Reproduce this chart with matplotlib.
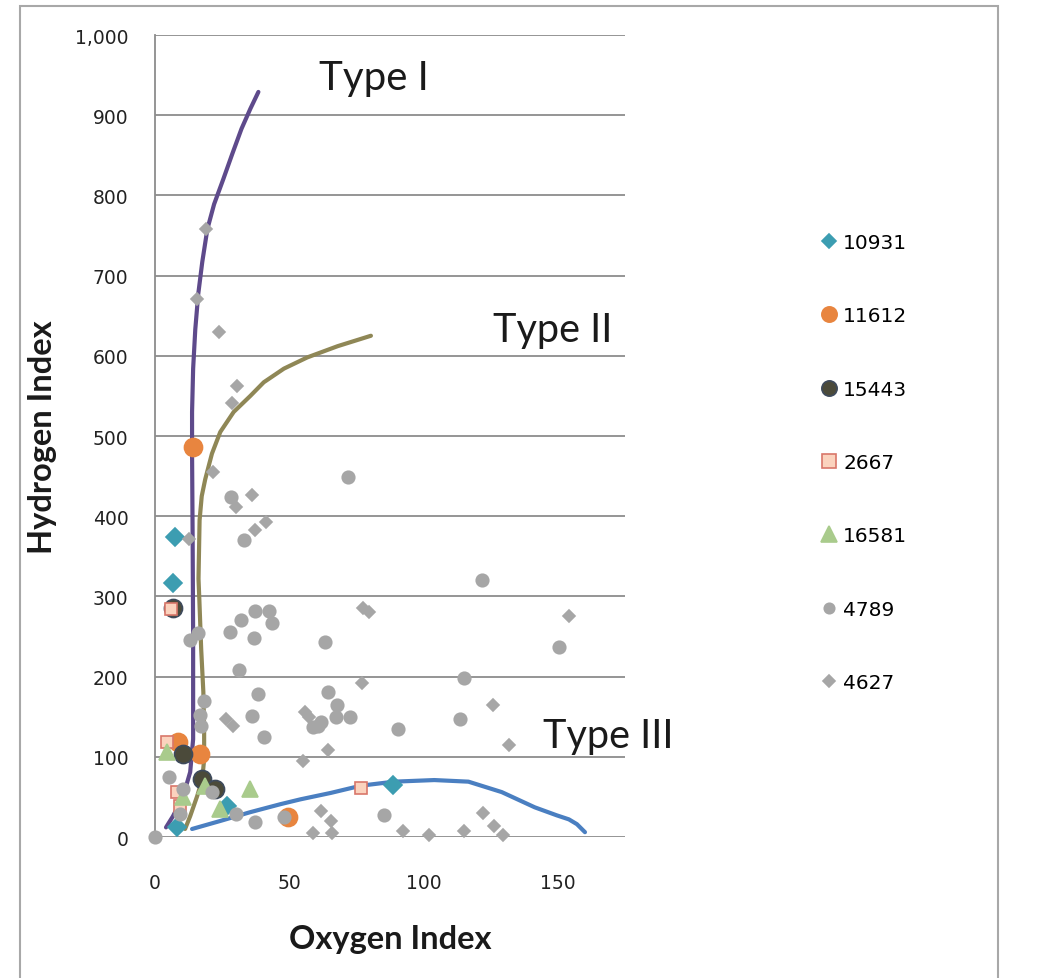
import matplotlib
matplotlib.use("Agg")
import matplotlib.pyplot as plt
from matplotlib.lines import Line2D
from matplotlib.patches import Rectangle
from matplotlib.ticker import FuncFormatter

# kerogen type curves (Oxygen Index, Hydrogen Index)
type1_x = [4.1, 6.7, 10.5, 13.1, 14.2, 14.2, 14.0, 13.8, 13.8, 14.2, 15.0, 16.1, 17.6,
           19.5, 22.0, 25.4, 28.8, 32.2, 35.5, 38.5]
type1_y = [12, 26, 51, 81, 122, 250, 380, 480, 530, 584, 633, 677, 717,
           758, 789, 820, 852, 883, 908, 929]
type2_x = [11.2, 13.1, 15.7, 17.6, 18.3, 18.3, 18.0, 17.2, 16.5, 16.2, 16.6, 17.4, 18.7,
           21.2, 24.3, 29.3, 35.5, 40.5, 48.0, 56.7, 68.0, 80.4]
type2_y = [10, 26, 51, 72, 97, 135, 181, 234, 297, 322, 395, 425, 446,
           478, 505, 530, 550, 567, 584, 598, 612, 625]
type3_x = [13.8, 24.3, 35.5, 46.8, 54.2, 65.5, 76.7, 89.0, 104.0, 116.7, 129.1, 141.4,
           149.6, 154.1, 157.1, 160.1]
type3_y = [10, 20, 31, 41, 47, 55, 64, 69, 71, 69, 56, 37, 27, 22, 16, 6]

# samples
s10931_x = [7.5, 6.7, 8.2, 88.7, 26.9]
s10931_y = [374, 317, 12, 65, 39]
s11612_x = [14.2, 8.6, 16.8, 49.4]
s11612_y = [486, 119, 103, 25]
s15443_x = [6.7, 10.5, 17.6, 22.4]
s15443_y = [286, 103, 72, 60]
s2667_x = [6.0, 4.5, 8.2, 9.4, 76.7]
s2667_y = [284, 119, 56, 39, 61]
s16581_x = [4.5, 18.7, 35.5, 24.3, 10.5]
s16581_y = [106, 64, 60, 35, 50]
s4789_x = [0, 5.2, 10.5, 9.4, 21.3, 30.3, 37.4, 48.0, 13.1, 16.1, 28.0, 32.2, 37.4, 42.6,
           43.4, 37.0, 31.4, 18.3, 16.8, 17.2, 38.2, 36.3, 40.4, 59.0, 121.6, 63.2, 150.4,
           114.9, 64.3, 67.7, 67.3, 72.6, 60.6, 61.7, 90.5, 113.7, 85.3, 28.4, 33.3, 71.8]
s4789_y = [0, 75, 60, 29, 56, 29, 19, 25, 246, 254, 256, 270, 282, 282,
           267, 248, 208, 170, 152, 139, 178, 151, 125, 137, 320, 243, 237,
           198, 181, 164, 150, 150, 139, 143, 135, 147, 27, 424, 370, 449]
s4627_x = [26.6, 29.2, 56.0, 57.5, 77.4, 79.7, 154.0, 77.0, 126.0, 131.7, 64.3, 55.0,
           61.7, 65.5, 58.7, 66.0, 92.4, 102.0, 115.0, 122.3, 126.4, 129.4,
           19.0, 15.7, 24.0, 30.7, 28.8, 21.7, 36.3, 30.3, 41.2, 37.4, 12.7]
s4627_y = [147, 138, 156, 150, 285, 281, 276, 192, 165, 115, 108, 95,
           32, 20, 5, 5, 8, 3, 8, 30, 14, 3,
           758, 671, 630, 562, 541, 455, 426, 411, 393, 383, 372]

# name, x, y, marker, size, legend size, face, edge
series = [
    ("10931", s10931_x, s10931_y, "D", 8.8, 7.0, "#3C9DB1", "#3C9DB1"),
    ("11612", s11612_x, s11612_y, "o", 13, 11, "#E8853F", "#E8853F"),
    ("15443", s15443_x, s15443_y, "o", 13, 11, "#4B4A3A", "#3E4A5C"),
    ("2667", s2667_x, s2667_y, "s", 9, 9.5, "#FBD3BE", "#D9776A"),
    ("16581", s16581_x, s16581_y, "^", 12, 11, "#A9CB8C", "#A9CB8C"),
    ("4789", s4789_x, s4789_y, "o", 9, 7.5, "#A6A6A6", "#A6A6A6"),
    ("4627", s4627_x, s4627_y, "D", 6.6, 6.0, "#A6A6A6", "#A6A6A6"),
]

fig = plt.figure(figsize=(10.37, 9.79), dpi=100)
ax = fig.add_axes([155 / 1037, 1 - 838 / 979, 470 / 1037, 802 / 979])

# chart frame
fig.patches.append(Rectangle((20 / 1037, -0.05), 978 / 1037, 1.05 - 7 / 979,
                             transform=fig.transFigure, fill=False,
                             edgecolor="#A8A8A8", linewidth=1.5, zorder=0))

for v in range(0, 1001, 100):
    ax.axhline(v, color="#8C8C8C", linewidth=1.3, zorder=1)

ax.plot(type1_x, type1_y, color="#5E4A8B", linewidth=3, zorder=2,
        solid_capstyle="round", solid_joinstyle="round")
ax.plot(type2_x, type2_y, color="#8F8756", linewidth=3, zorder=2,
        solid_capstyle="round", solid_joinstyle="round")
ax.plot(type3_x, type3_y, color="#4A7FC1", linewidth=3, zorder=2,
        solid_capstyle="round", solid_joinstyle="round")

handles = []
for i, (name, xs, ys, m, ms, lms, fc, ec) in enumerate(series):
    ax.plot(xs, ys, linestyle="none", marker=m, markersize=ms, markerfacecolor=fc,
            markeredgecolor=ec, markeredgewidth=1.2, zorder=3 + i, clip_on=False)
    handles.append(Line2D([], [], linestyle="none", marker=m, markersize=lms,
                          markerfacecolor=fc, markeredgecolor=ec, markeredgewidth=1.2,
                          label=name))

ax.set_xlim(0, 175)
ax.set_ylim(0, 1000)
ax.set_xticks([0, 50, 100, 150])
ax.set_yticks(range(0, 1001, 100))
ax.yaxis.set_major_formatter(FuncFormatter(lambda v, p: f"{int(v):,}"))
ax.tick_params(length=0, labelsize=13.5, labelcolor="#222222")
ax.tick_params(axis="y", pad=19)
ax.tick_params(axis="x", pad=26)

for s in ["top", "right", "bottom"]:
    ax.spines[s].set_visible(False)
ax.spines["left"].set_color("#8C8C8C")
ax.spines["left"].set_linewidth(1.3)

ax.set_xlabel("Oxygen Index", fontfamily="Lato", fontweight="bold", fontsize=23.5,
              labelpad=23, color="#1A1A1A")
ax.set_ylabel("Hydrogen Index", fontfamily="Lato", fontweight="bold", fontsize=23.5,
              labelpad=13, color="#1A1A1A")

ax.text(61, 933, "Type I", fontfamily="Lato", fontsize=29, color="#1A1A1A",
        ha="left", va="baseline")
ax.text(126, 618, "Type II", fontfamily="Lato", fontsize=28.5, color="#1A1A1A",
        ha="left", va="baseline")
ax.text(144.4, 112, "Type III", fontfamily="Lato", fontsize=28.5, color="#1A1A1A",
        ha="left", va="baseline")

fig.legend(handles=handles, loc="center left", bbox_to_anchor=(819 / 1037, 1 - 463.5 / 979),
           frameon=False, fontsize=14.5, handlelength=1.0, handletextpad=0.2,
           labelspacing=2.7, borderpad=0, borderaxespad=0)

fig.savefig("out.png", dpi=100)
